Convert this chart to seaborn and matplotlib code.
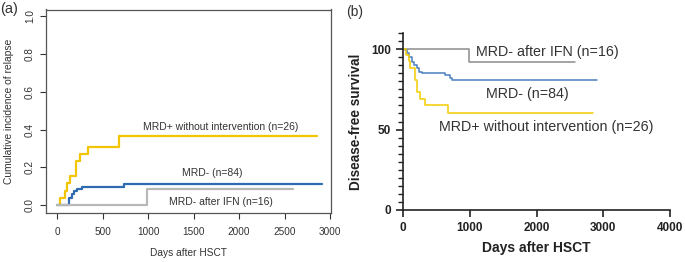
import numpy as np
import pandas as pd
import seaborn as sns
import matplotlib
matplotlib.use("Agg")
import matplotlib.pyplot as plt
from matplotlib.ticker import MultipleLocator

# ---- panel (a): cumulative incidence of relapse ----
a_pos_days = [0, 28, 85, 110, 147, 213, 257, 337, 678, 2860]
a_pos_cir = [0, 0.038, 0.077, 0.115, 0.154, 0.231, 0.269, 0.308, 0.365, 0.365]
a_neg_days = [0, 128, 165, 190, 220, 275, 733, 2908]
a_neg_cir = [0, 0.036, 0.060, 0.077, 0.085, 0.095, 0.113, 0.113]
a_ifn_days = [0, 990, 2596]
a_ifn_cir = [0, 0.084, 0.084]

# ---- panel (b): disease-free survival ----
b_pos_days = [0, 45, 85, 110, 175, 215, 255, 325, 675, 2850]
b_pos_dfs = [100, 96.2, 92.3, 88.5, 80.8, 73.1, 69.2, 65.4, 60.0, 60.0]
b_neg_days = [0, 30, 55, 90, 130, 170, 205, 240, 280, 430, 630, 705, 740, 2900]
b_neg_dfs = [100, 99.2, 97.5, 95.0, 91.9, 89.9, 88.0, 85.9, 85.3, 85.3, 83.6, 82.0, 80.5, 80.5]
b_ifn_days = [0, 990, 2580]
b_ifn_dfs = [100, 91.7, 91.7]

labels = ["MRD+ without intervention (n=26)", "MRD- (n=84)", "MRD- after IFN (n=16)"]

sns.set_style("ticks")
plt.rcParams["font.family"] = ["Liberation Sans", "DejaVu Sans"]

fig = plt.figure(figsize=(6.85, 2.62), dpi=100)
W, H = 685, 262

def px_axes(l, t, r, b):
    return fig.add_axes([l / W, 1 - b / H, (r - l) / W, (b - t) / H])

# ========== (a) ==========
ax = px_axes(46, 9.5, 331, 213)
yel_a, blu_a, gry_a = "#F2C500", "#2F6BB0", "#B8B8B8"
sns.lineplot(x=a_pos_days, y=a_pos_cir, drawstyle="steps-post", color=yel_a, lw=1.6, estimator=None, ax=ax)
sns.lineplot(x=a_neg_days, y=a_neg_cir, drawstyle="steps-post", color=blu_a, lw=1.6, estimator=None, ax=ax)
sns.lineplot(x=a_ifn_days, y=a_ifn_cir, drawstyle="steps-post", color=gry_a, lw=1.6, estimator=None, ax=ax)
ax.set_xlim(-122, 3010)
ax.set_ylim(-0.042, 1.036)
ax.set_xticks([0, 500, 1000, 1500, 2000, 2500, 3000])
ax.set_yticks([0, 0.2, 0.4, 0.6, 0.8, 1.0])
ax.set_yticklabels(["0.0", "0.2", "0.4", "0.6", "0.8", "1.0"], rotation=90, va="center")
for s in ax.spines.values():
    s.set_color("#555555")
    s.set_linewidth(0.9)
ax.tick_params(colors="#333333", labelsize=7.2, length=4, width=0.8, direction="out")
ax.tick_params(axis="x", pad=6)
ax.tick_params(axis="y", pad=4)
ax.set_xlabel("Days after HSCT", fontsize=7.3, color="#333333", labelpad=8)
ax.set_ylabel("Cumulative incidence of relapse", fontsize=7.4, color="#333333", labelpad=8)
ax.text(1800, 0.413, labels[0], fontsize=7.5, ha="center", va="center", color="#333333")
ax.text(1703, 0.17, labels[1], fontsize=7.5, ha="center", va="center", color="#333333")
ax.text(1800, 0.016, labels[2], fontsize=7.5, ha="center", va="center", color="#333333")
fig.text(0 / W, 1 - 9 / H, "(a)", fontsize=10.5, ha="left", va="center", color="#333333")

# ========== (b) ==========
bx = px_axes(403, 33, 670, 210)
yel_b, blu_b, gry_b = "#F5CD00", "#4A80C0", "#8C8C8C"
sns.lineplot(x=b_ifn_days, y=b_ifn_dfs, drawstyle="steps-post", color=gry_b, lw=1.1, estimator=None, ax=bx)
sns.lineplot(x=b_neg_days, y=b_neg_dfs, drawstyle="steps-post", color=blu_b, lw=1.1, estimator=None, ax=bx)
sns.lineplot(x=b_pos_days, y=b_pos_dfs, drawstyle="steps-post", color=yel_b, lw=1.1, estimator=None, ax=bx)
bx.set_xlim(0, 4000)
bx.set_ylim(0, 110)
bx.set_xticks([0, 1000, 2000, 3000, 4000])
bx.set_yticks([0, 50, 100])
bx.yaxis.set_minor_locator(MultipleLocator(5))
sns.despine(ax=bx)
for s in ["left", "bottom"]:
    bx.spines[s].set_linewidth(1.2)
    bx.spines[s].set_color("#222222")
bx.tick_params(axis="both", which="major", length=5, width=1.2, labelsize=8.5, colors="#222222")
bx.tick_params(axis="y", which="minor", length=3.5, width=1.0, colors="#222222")
for lab in bx.get_xticklabels() + bx.get_yticklabels():
    lab.set_fontweight("bold")
bx.set_xlabel("Days after HSCT", fontsize=10, fontweight="bold", color="#222222", labelpad=5)
bx.set_ylabel("Disease-free survival", fontsize=9.8, fontweight="bold", color="#222222", labelpad=6)
bx.text(1095, 98.3, labels[2], fontsize=10.3, ha="left", va="center", color="#333333")
bx.text(1868, 72, labels[1], fontsize=10.3, ha="center", va="center", color="#333333")
bx.text(2140, 51.5, labels[0], fontsize=10.3, ha="center", va="center", color="#333333")
fig.text(346 / W, 1 - 12 / H, "(b)", fontsize=10, ha="left", va="center", color="#333333")

fig.savefig("out.png", dpi=100)
